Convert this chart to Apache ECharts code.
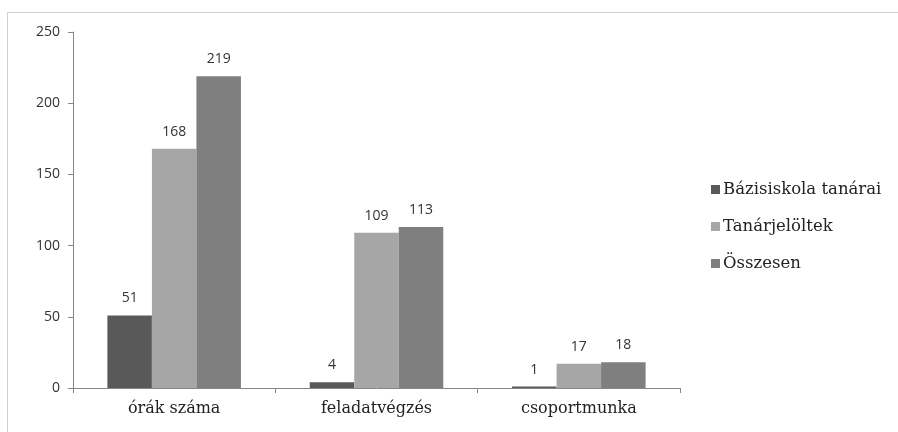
<!DOCTYPE html>
<html><head><meta charset="utf-8">
<script src="https://cdn.jsdelivr.net/npm/echarts@6/dist/echarts.min.js"></script>
<style>html,body{margin:0;padding:0;background:#fff;}#c{width:898px;height:432px;}</style>
</head><body><div id="c"></div>
<script>
const categories = ['órák száma', 'feladatvégzés', 'csoportmunka'];
const seriesNames = ['Bázisiskola tanárai', 'Tanárjelöltek', 'Összesen'];
const bazisiskola = [51, 4, 1];
const tanarjeloltek = [168, 109, 17];
const osszesen = [219, 113, 18];
const colors = ['#595959', '#a6a6a6', '#7f7f7f'];

const chart = echarts.init(document.getElementById('c'));
const mk = (name, data, color) => ({
  name, type: 'bar', data, barGap: '0%', barCategoryGap: '34%',
  itemStyle: { color },
  label: { show: true, position: 'top', distance: 10, color: '#333', fontFamily: 'Open Sans', fontSize: 14 }
});
chart.setOption({
  animation: false,
  graphic: [{ type: 'rect', shape: { x: 7.5, y: 12.5, width: 900, height: 430 }, style: { fill: 'none', stroke: '#d0d0d0', lineWidth: 1 } }],
  grid: { left: 73, right: 218, top: 32, bottom: 44 },
  legend: {
    orient: 'vertical', left: 706, top: 176, itemGap: 20, itemWidth: 9, itemHeight: 9,
    icon: 'rect', itemStyle: {},
    textStyle: { fontFamily: 'DejaVu Serif', fontSize: 16.5, color: '#222', padding: [0, 0, 0, -2] },
    data: seriesNames
  },
  xAxis: {
    type: 'category', data: categories,
    axisLine: { lineStyle: { color: '#868686' } },
    axisTick: { show: true, alignWithLabel: false, length: 5, lineStyle: { color: '#868686' } },
    axisLabel: { fontFamily: 'DejaVu Serif', fontSize: 16, color: '#222', margin: 13 }
  },
  yAxis: {
    type: 'value', min: 0, max: 250, interval: 50,
    axisLine: { show: true, lineStyle: { color: '#868686' } },
    axisTick: { show: true, length: 5, lineStyle: { color: '#868686' } },
    splitLine: { show: false },
    axisLabel: { fontFamily: 'Open Sans', fontSize: 14, color: '#333', margin: 13 }
  },
  series: [mk(seriesNames[0], bazisiskola, colors[0]), mk(seriesNames[1], tanarjeloltek, colors[1]), mk(seriesNames[2], osszesen, colors[2])]
});
</script></body></html>
